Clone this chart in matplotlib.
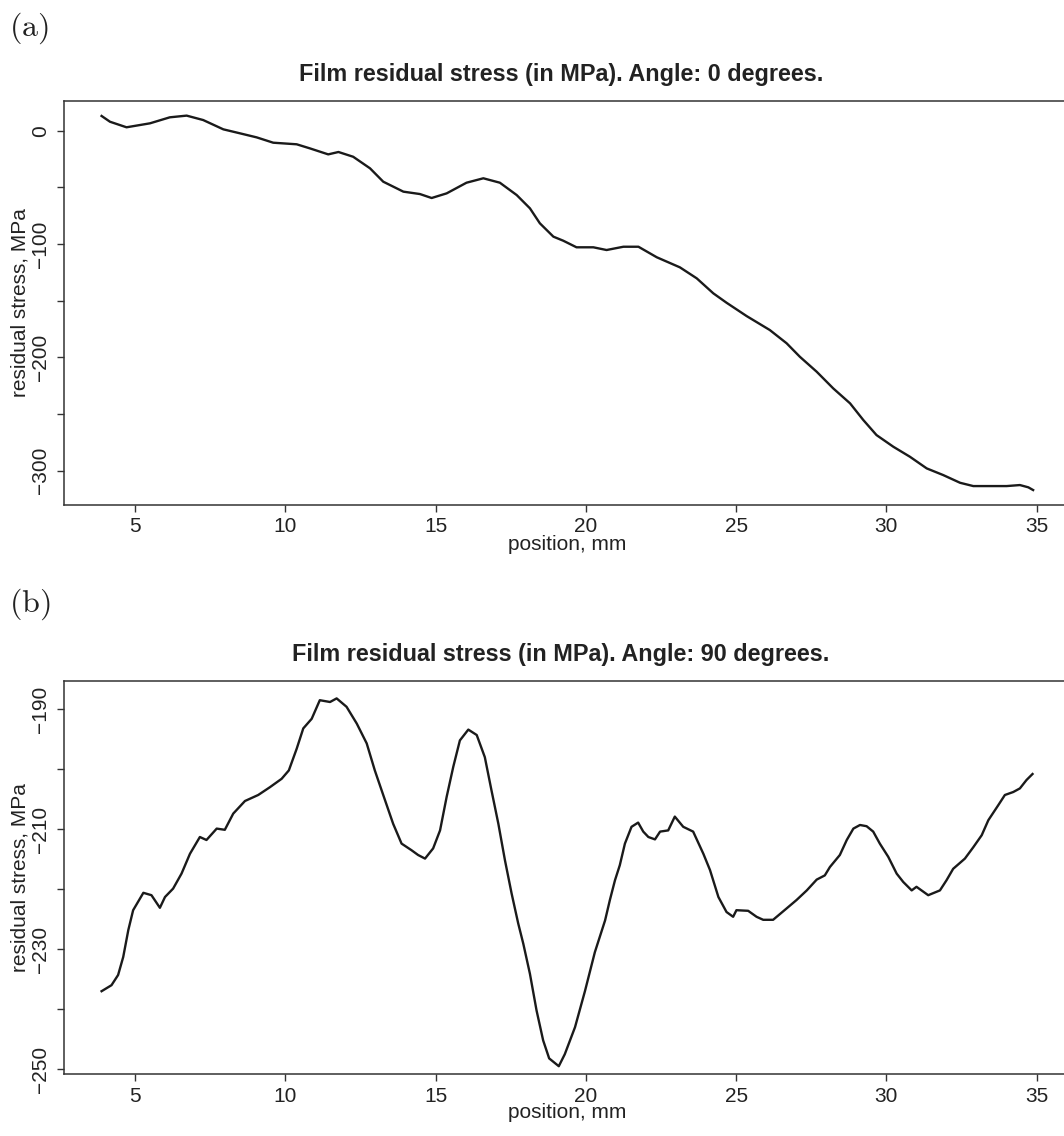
import matplotlib
matplotlib.use("Agg")
import matplotlib.pyplot as plt
from matplotlib.ticker import FixedLocator, FuncFormatter

plt.rcParams["font.family"] = ["Liberation Sans", "DejaVu Sans"]
plt.rcParams["mathtext.fontset"] = "cm"

# Panel (a): angle 0 degrees
pos_a = [3.89, 4.17, 4.72, 5.50, 6.16, 6.72, 7.27, 7.94, 8.49, 9.05, 9.60,
         10.38, 10.82, 11.43, 11.77, 12.26, 12.82, 13.26, 13.93, 14.48, 14.87,
         15.37, 16.03, 16.59, 17.14, 17.70, 18.14, 18.47, 18.92, 19.25, 19.69,
         20.25, 20.69, 21.25, 21.75, 22.36, 23.13, 23.69, 24.24, 24.68, 25.35,
         26.12, 26.68, 27.12, 27.68, 28.23, 28.79, 29.23, 29.67, 30.23, 30.78,
         31.34, 31.89, 32.45, 32.89, 33.44, 34.00, 34.44, 34.72, 34.88]
stress_a = [13.0, 7.9, 3.0, 6.5, 11.8, 13.3, 9.4, 1.2, -2.3, -5.9, -10.6,
            -12.0, -15.6, -20.9, -18.8, -23.0, -33.2, -45.0, -53.8, -55.9, -59.4,
            -55.3, -45.9, -42.0, -45.9, -56.8, -68.5, -81.7, -93.5, -97.1, -102.9,
            -102.9, -105.3, -102.4, -102.4, -111.7, -120.6, -130.3, -143.5, -151.8, -163.6,
            -175.9, -187.6, -199.5, -212.7, -227.4, -240.6, -255.3, -268.6, -278.9, -287.7,
            -298.0, -303.9, -310.7, -313.6, -313.6, -313.6, -312.7, -314.7, -317.1]

# Panel (b): angle 90 degrees
pos_b = [3.89, 4.22, 4.44, 4.61, 4.78, 4.94, 5.28, 5.55, 5.83, 6.00, 6.27,
         6.55, 6.83, 7.16, 7.38, 7.72, 7.99, 8.27, 8.66, 9.10, 9.49, 9.88,
         10.12, 10.38, 10.60, 10.88, 11.15, 11.49, 11.71, 12.04, 12.38, 12.71,
         12.98, 13.26, 13.59, 13.87, 14.20, 14.42, 14.65, 14.92, 15.15, 15.37,
         15.59, 15.81, 16.09, 16.37, 16.64, 16.86, 17.09, 17.31, 17.53, 17.75,
         17.92, 18.14, 18.36, 18.58, 18.78, 19.10, 19.30, 19.64, 19.97, 20.30,
         20.64, 20.80, 20.97, 21.13, 21.30, 21.52, 21.74, 21.91, 22.08, 22.30,
         22.47, 22.74, 22.96, 23.24, 23.57, 23.91, 24.13, 24.41, 24.68, 24.90,
         25.01, 25.40, 25.68, 25.90, 26.23, 26.68, 27.01, 27.35, 27.68, 27.95,
         28.12, 28.45, 28.68, 28.90, 29.12, 29.34, 29.56, 29.78, 30.06, 30.34,
         30.56, 30.84, 31.00, 31.39, 31.78, 32.00, 32.22, 32.61, 32.89, 33.17,
         33.39, 33.72, 33.94, 34.22, 34.44, 34.66, 34.86]
stress_b = [-237.0, -236.0, -234.3, -231.3, -226.8, -223.5, -220.6, -221.0, -223.1, -221.3, -219.9,
            -217.4, -214.1, -211.3, -211.8, -209.9, -210.1, -207.4, -205.3, -204.3, -203.0, -201.6,
            -200.2, -196.6, -193.2, -191.6, -188.5, -188.8, -188.2, -189.6, -192.4, -195.7,
            -200.2, -204.3, -209.1, -212.4, -213.5, -214.3, -214.9, -213.2, -210.2, -204.6,
            -199.6, -195.2, -193.4, -194.3, -198.0, -203.5, -209.1, -215.2, -220.7, -225.7,
            -229.1, -234.1, -240.2, -245.2, -248.2, -249.5, -247.5, -243.0, -237.0, -230.5,
            -225.2, -221.8, -218.5, -216.0, -212.4, -209.6, -208.9, -210.4, -211.3, -211.7,
            -210.4, -210.2, -207.9, -209.6, -210.4, -214.1, -216.8, -221.3, -223.8, -224.6,
            -223.5, -223.6, -224.6, -225.1, -225.1, -223.2, -221.8, -220.2, -218.4, -217.7,
            -216.3, -214.3, -211.8, -209.9, -209.3, -209.5, -210.4, -212.4, -214.6, -217.4,
            -218.8, -220.2, -219.6, -221.0, -220.2, -218.5, -216.6, -214.9, -213.0, -211.0,
            -208.5, -206.0, -204.3, -203.8, -203.2, -201.8, -200.8]

x_ticks = [5, 10, 15, 20, 25, 30, 35]
y_ticks_a = [0, -50, -100, -150, -200, -250, -300]
y_labels_a = [0, -100, -200, -300]
y_ticks_b = [-190, -200, -210, -220, -230, -240, -250]
y_labels_b = [-190, -210, -230, -250]

W, H = 1064, 1136
LINE = "#1a1a1a"
AXC = "#333333"
TXT = "#222222"


def draw_panel(ax, xs, ys, box_h, yticks, ylabels, ylim, title):
    ax.plot(xs, ys, color=LINE, lw=1.7)
    ax.set_xlim(2.64, 36.14)
    ax.set_ylim(*ylim)
    for s in ax.spines.values():
        s.set_color(AXC)
        s.set_linewidth(1.1)
    ax.xaxis.set_major_locator(FixedLocator(x_ticks))
    ax.yaxis.set_major_locator(FixedLocator(yticks))
    # R drops every other label when they would collide
    ax.yaxis.set_major_formatter(FuncFormatter(
        lambda v, p: (f"{int(round(v))}".replace("-", "\u2212")
                      if int(round(v)) in ylabels else "")))
    ax.tick_params(axis="both", length=5, width=1.0, color=AXC, labelsize=15,
                   labelcolor=TXT)
    ax.tick_params(axis="x", pad=4)
    ax.tick_params(axis="y", pad=5)
    for lab in ax.get_yticklabels():
        lab.set_rotation(90)
        lab.set_va("center")
        lab.set_ha("right")
    ax.text(0.5, -0.075, "position, mm", transform=ax.transAxes, ha="center", va="top",
            fontsize=15, color=TXT)
    ax.text((20 - 64) / 1007, 0.5, "residual stress, MPa", transform=ax.transAxes,
            rotation=90, ha="center", va="center", fontsize=15, color=TXT)
    ax.text((561 - 64) / 1007, 1.0 + 26 / box_h, title, transform=ax.transAxes,
            ha="center", va="center", fontsize=16.8, fontweight="bold", color=TXT)


fig = plt.figure(figsize=(W / 100, H / 100), dpi=100)

# panel (a): pixel box left 64, top 101, bottom 505, right 1071 (cut by the page edge)
ax1 = fig.add_axes([64 / W, (H - 505) / H, 1007 / W, 404 / H])
draw_panel(ax1, pos_a, stress_a, 404, y_ticks_a, y_labels_a, (-330.3, 26.2),
           "Film residual stress (in MPa). Angle: 0 degrees.")

# panel (b): top 681, bottom 1074
ax2 = fig.add_axes([64 / W, (H - 1074) / H, 1007 / W, 393 / H])
draw_panel(ax2, pos_b, stress_b, 393, y_ticks_b, y_labels_b, (-250.8, -185.3),
           "Film residual stress (in MPa). Angle: 90 degrees.")

fig.text(9 / W, 1 - 28 / H, r"$\mathrm{(a)}$", fontsize=23, ha="left", va="center",
         color=TXT)
fig.text(9 / W, 1 - 604 / H, r"$\mathrm{(b)}$", fontsize=23, ha="left", va="center",
         color=TXT)

fig.savefig("out.png", dpi=100)
